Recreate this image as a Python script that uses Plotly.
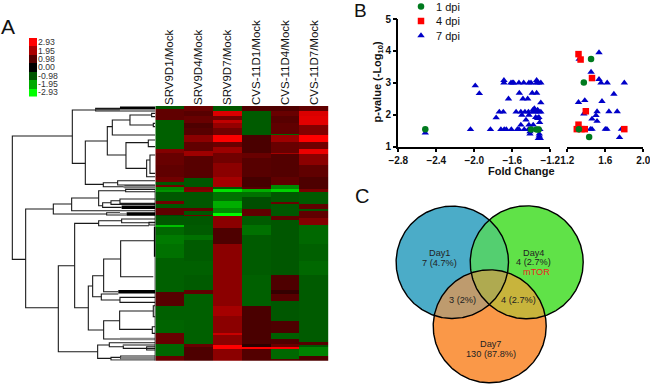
import numpy as np
import plotly.graph_objects as go

W, H = 650, 384
FONT = "Liberation Sans, Arial, sans-serif"

# ---------- Panel A data ----------
sample_labels = ["SRV9D1/Mock", "SRV9D4/Mock", "SRV9D7/Mock", "CVS-11D1/Mock", "CVS-11D4/Mock", "CVS-11D7/Mock"]
n_rows = 148
# per-sample runs of (last row of run, log ratio)
srv9d1 = [(2,-1.0),(8,1.1),(25,-1.1),(27,1.5),(34,1.2),(41,1.1),(44,1.3),(46,-1.0),(47,1.3),(49,-1.5),(50,-1.7),(55,-1.0),(57,1.3),(59,-1.0),(63,1.1),(64,-0.8),(69,-1.0),(70,-2.2),(75,-1.2),(80,-1.4),(88,-1.3),(98,-1.1),(108,-1.1),(116,1.0),(124,-1.1),(132,-1.15),(138,1.2),(145,-1.2),(148,1.2)]
srv9d4 = [(3,1.2),(6,1.0),(10,1.2),(13,0.9),(17,1.0),(21,1.6),(26,1.1),(29,1.8),(42,1.0),(47,-1.0),(49,1.4),(50,1.5),(59,-1.0),(61,1.1),(63,-1.0),(64,1.3),(69,-1.0),(75,-1.05),(78,-1.3),(90,-1.05),(98,-1.1),(107,-1.05),(109,1.1),(138,-1.1),(140,1.2),(148,0.9)]
srv9d7 = [(3,-1.0),(6,2.5),(8,1.3),(10,2.2),(13,1.7),(17,1.3),(21,2.9),(24,1.2),(27,1.8),(33,1.3),(41,1.6),(47,1.9),(48,-1.0),(50,-2.6),(55,-1.3),(59,-2.0),(62,-1.6),(64,-2.9),(71,1.6),(80,0.9),(98,1.6),(116,1.6),(122,1.9),(132,1.6),(133,2.3),(139,1.6),(141,3.0),(148,1.6)]
cvs11d1 = [(3,0.9),(17,-1.05),(27,0.85),(30,1.2),(41,1.0),(47,0.8),(48,1.0),(50,-2.0),(53,-1.3),(60,-0.9),(64,1.1),(69,-1.05),(75,-1.3),(98,-1.05),(116,-1.1),(138,0.85),(140,0.5),(141,3.0),(148,0.95)]
cvs11d4 = [(3,0.9),(6,1.2),(10,1.0),(16,1.1),(17,-1.2),(21,1.8),(27,1.2),(28,1.9),(41,0.95),(46,1.1),(48,-1.6),(50,-2.4),(56,-1.0),(57,1.2),(64,-1.0),(66,1.1),(98,-1.0),(107,0.9),(109,0.6),(113,1.0),(125,-1.0),(132,0.9),(135,-1.1),(138,0.9),(140,1.2),(141,3.0),(147,-1.2),(148,1.0)]
cvs11d7 = [(3,1.1),(6,2.5),(11,2.6),(17,1.5),(21,3.0),(25,1.3),(28,2.7),(34,1.6),(41,1.1),(47,0.9),(48,0.9),(50,1.4),(57,-1.05),(60,1.1),(61,-1.0),(65,1.1),(69,1.5),(80,-1.2),(90,-1.1),(98,-1.2),(137,-1.05),(139,1.0),(140,-1.0),(145,-1.5),(148,0.9)]
sample_runs = [srv9d1, srv9d4, srv9d7, cvs11d1, cvs11d4, cvs11d7]

scale_labels = ["2.93", "1.95", "0.98", "0.00", "-0.98", "-1.95", "-2.93"]
scale_values = [2.93, 1.95, 0.98, 0.0, -0.98, -1.95, -2.93]

# dendrogram merges: node height, top child row, bottom child row, top child height, bottom child height
merges = [
 [37,408,778,217,77],[217,330,490,287,256],[287,325,333,466,466],[256,423,553,322,310],
 [322,380,465,337,378],[337,360,405,390,466],[390,345,375,455,460],[455,340,350,466,466],
 [460,370,380,466,466],[378,428,505,445,440],[445,420,440,466,466],[440,480,530,450,466],
 [450,465,520,466,466],[310,548,560,353,375],[353,542,555,466,466],[375,557,563,466,466],
 [77,627,923,160,175],[160,612,642,215,320],[215,594,632,296,466],[296,572,617,377,308],
 [377,568,575,466,466],[308,608,622,333,365],[333,602,613,360,466],[360,597,610,466,466],
 [320,638,645,360,380],[175,797,1055,224,293],[224,670,923,296,265],[296,662,677,365,447],
 [365,657,668,466,466],[447,667,675,466,466],[265,858,990,278,311],[278,827,890,311,304],
 [311,777,875,362,355],[362,722,830,466,460],[304,882,900,355,360],[360,892,907,466,466],
 [311,962,1017,359,360],[359,933,988,460,457],[460,917,950,466,466],[457,980,1000,466,466],
 [293,1035,1075,328,333],[328,1028,1040,466,370],[370,1035,1045,440,466],[440,1040,1050,466,466],
 [333,1072,1080,362,466],[362,1068,1076,466,466],
]
# bundles of very short leaves: from height, to height, row, line width, colour
leaf_bundles = [
 [360,466,324,3,"#000"],[287,360,329,1.5,"#444"],[370,466,560,2,"#888"],[365,466,622,3.5,"#000"],
 [360,380,642,2,"#999"],[380,466,642,3.5,"#000"],[355,466,875,3.5,"#000"],[360,466,1017,2.5,"#888"],
 [370,466,1035,2,"#888"],[362,466,1075,2.5,"#888"],
]
leaf_edge = [(466,570,1082,1.2),(465,680,770,2.2)]

# ---------- Panel B data ----------
neg_7_x = [-2.516,-2.04,-1.99,-1.947,-1.83,-1.77,-1.737,-1.695,-1.72,-1.685,-1.663,-1.688,-1.688,-1.61,-1.64,-1.614,-1.586,-1.60,-1.53,-1.48,-1.425,-1.403,-1.56,-1.547,-1.53,-1.526,-1.51,-1.50,-1.51,-1.488,-1.438,-1.474,-1.467,-1.456,-1.43,-1.425,-1.425,-1.43,-1.414,-1.414,-1.39,-1.344,-1.382,-1.382,-1.368,-1.38,-1.36,-1.333,-1.32,-1.30,-1.344,-1.344,-1.326,-1.30,-1.354,-1.333,-1.32,-1.312,-1.30,-1.31,-1.316,-1.326,-1.305,-1.316]
neg_7_y = [1.43,1.54,2.91,2.67,1.54,1.91,2.09,2.09,1.54,1.54,1.54,3.0,3.08,1.54,2.5,3.0,3.0,3.0,3.0,3.0,3.0,3.0,2.09,1.54,1.54,2.68,2.09,1.99,1.68,2.5,2.5,1.54,2.09,1.84,2.09,1.99,1.68,1.54,1.40,1.47,2.68,2.68,2.15,2.09,2.2,1.68,2.09,2.15,2.09,2.09,3.0,3.08,3.0,3.0,1.92,1.89,1.92,1.76,2.38,1.54,1.40,1.26,1.26,1.34]
neg_1_x = [-2.516,-1.403,-1.344,-1.323]
neg_1_y = [1.55,1.54,1.54,1.54]
pos_7_x = [1.534,1.325,1.45,1.534,1.555,1.62,1.80,1.69,1.384,1.318,1.565,1.374,1.513,1.502,1.638,1.725,1.46,1.513,1.443,1.46,1.617,1.60,1.77,1.75]
pos_7_y = [3.95,3.74,3.34,3.11,3.0,3.0,3.0,2.65,2.45,2.39,2.42,2.03,2.10,1.98,2.10,2.10,1.87,1.80,1.55,1.55,1.55,1.55,1.55,1.29]
pos_4_x = [1.318,1.34,1.46,1.395,1.318,1.30,1.35,1.384,1.80]
pos_4_y = [3.90,3.73,3.15,2.11,1.69,1.55,1.55,1.55,1.55]
pos_1_x = [1.45,1.374,1.322,1.43]
pos_1_y = [3.75,3.01,1.55,1.30]
y_ticks = [1, 2, 3, 4, 5]
x_ticks_neg = [-2.8, -2.4, -2.0, -1.6, -1.2]
x_ticks_pos = [1.2, 1.6, 2.0]
key_names = ["1 dpi", "4 dpi", "7 dpi"]
key_symbols = ["circle", "square", "triangle-up"]
key_colors = ["#007A1E", "#FF0000", "#0000C8"]

# ---------- Panel C data ----------
venn_names = ["Day1", "Day4", "Day7"]
venn_cx = [452.3, 526.7, 489.7]
venn_cy = [262.3, 262.3, 326.3]
venn_r = [56.2, 56.5, 56.5]
venn_colors = ["#4BACC8", "#60E248", "#FA9848"]
overlap_colors = {(0, 1): "#54CF70", (0, 2): "#BE9B6E", (1, 2): "#C8B43C", (0, 1, 2): "#AFAA50"}
venn_text = [
 ("Day1", 439, 252.7, "#222"), ("7 (4.7%)", 439, 263, "#222"),
 ("Day4", 533, 252.7, "#222"), ("4 (2.7%)", 533, 262, "#222"), ("mTOR", 536.7, 272.3, "#EE2020"),
 ("3 (2%)", 462, 300, "#222"), ("4 (2.7%)", 518.7, 300, "#222"),
 ("Day7", 490, 344.3, "#222"), ("130 (87.8%)", 490.7, 354, "#222"),
]

# ---------- helpers ----------
def dom_x(a, b): return [a / W, b / W]
def dom_y(top, bottom): return [1 - bottom / H, 1 - top / H]

def expand(runs):
    out, start = [], 0
    for end, v in runs:
        out += [v] * (end - start)
        start = end
    return out[:n_rows]

fig = go.Figure()
CS = [[0, "#00FF00"], [0.5, "#000000"], [1, "#FF0000"]]

# heatmap
z = np.array([expand(r) for r in sample_runs]).T
fig.add_trace(go.Heatmap(z=z, x=sample_labels, y=list(range(n_rows)), colorscale=CS, zmin=-2.93, zmax=2.93,
                         showscale=False, xaxis="x", yaxis="y", hoverinfo="skip"))
# colour key
fig.add_trace(go.Heatmap(z=[[v] for v in scale_values], x=[0], y=scale_labels, colorscale=CS, zmin=-2.93, zmax=2.93,
                         showscale=False, xaxis="x2", yaxis="y2", hoverinfo="skip"))
# dendrogram
dx, dy = [], []
for xn, yt, yb, xa, xb in merges:
    dx += [xa, xn, xn, xb, None]
    dy += [yt, yt, yb, yb, None]
fig.add_trace(go.Scatter(x=dx, y=dy, mode="lines", line=dict(color="#1a1a1a", width=1.1), xaxis="x3", yaxis="y3",
                         showlegend=False, hoverinfo="skip"))
for x0, x1, y, w, c in leaf_bundles:
    fig.add_trace(go.Scatter(x=[x0, x1], y=[y, y], mode="lines", line=dict(color=c, width=w), xaxis="x3", yaxis="y3",
                             showlegend=False, hoverinfo="skip"))
for x, y0, y1, w in leaf_edge:
    fig.add_trace(go.Scatter(x=[x, x], y=[y0, y1], mode="lines", line=dict(color="#000", width=w), xaxis="x3", yaxis="y3",
                             showlegend=False, hoverinfo="skip"))

# scatter
BLUE, RED, GREEN = key_colors[2], key_colors[1], key_colors[0]
def pts(x, y, ax, ay, name, sym, col, size):
    fig.add_trace(go.Scatter(x=x, y=y, mode="markers", name=name, showlegend=False,
                             marker=dict(symbol=sym, color=col, size=size, line=dict(width=0)),
                             xaxis=ax, yaxis=ay, hoverinfo="skip", cliponaxis=False))
pts(neg_7_x, neg_7_y, "x4", "y4", "7 dpi", "triangle-up", BLUE, 6.5)
pts(pos_7_x, pos_7_y, "x5", "y5", "7 dpi", "triangle-up", BLUE, 6.5)
pts(pos_4_x, pos_4_y, "x5", "y5", "4 dpi", "square", RED, 6.5)
pts(neg_1_x, neg_1_y, "x4", "y4", "1 dpi", "circle", GREEN, 6.5)
pts(pos_1_x, pos_1_y, "x5", "y5", "1 dpi", "circle", GREEN, 6.5)

# key for panel B, on its own hidden axes
for k, (name, sym, col) in enumerate(zip(key_names, key_symbols, key_colors)):
    fig.add_trace(go.Scatter(x=[0], y=[k], mode="markers", name=name, showlegend=False, hoverinfo="skip",
                             marker=dict(symbol=sym, color=col, size=6.5, line=dict(width=0)),
                             xaxis="x7", yaxis="y7", cliponaxis=False))
    fig.add_annotation(x=15, y=k, xref="x7", yref="y7", text=name, showarrow=False, xanchor="left", xshift=-2,
                       font=dict(family=FONT, size=11, color="#111"))

# venn
theta = np.linspace(0, 2 * np.pi, 361)
def circle(i):
    return venn_cx[i] + venn_r[i] * np.cos(theta), venn_cy[i] + venn_r[i] * np.sin(theta)
def region(ids):
    px, py = [], []
    for i in ids:
        cxs, cys = circle(i)
        keep = np.ones_like(cxs, dtype=bool)
        for j in ids:
            if j != i:
                keep &= np.hypot(cxs - venn_cx[j], cys - venn_cy[j]) <= venn_r[j]
        px += list(cxs[keep]); py += list(cys[keep])
    px, py = np.array(px), np.array(py)
    order = np.argsort(np.arctan2(py - py.mean(), px - px.mean()))
    return np.r_[px[order], px[order][0]], np.r_[py[order], py[order][0]]
for i in range(3):
    cxs, cys = circle(i)
    fig.add_trace(go.Scatter(x=cxs, y=cys, mode="lines", fill="toself", fillcolor=venn_colors[i], line=dict(width=0),
                             name=venn_names[i], xaxis="x6", yaxis="y6", showlegend=False, hoverinfo="skip"))
for ids, col in overlap_colors.items():
    rx, ry = region(ids)
    fig.add_trace(go.Scatter(x=rx, y=ry, mode="lines", fill="toself", fillcolor=col, line=dict(width=0),
                             xaxis="x6", yaxis="y6", showlegend=False, hoverinfo="skip"))
for i in range(3):
    cxs, cys = circle(i)
    fig.add_trace(go.Scatter(x=cxs, y=cys, mode="lines", line=dict(color="#000", width=1.4),
                             xaxis="x6", yaxis="y6", showlegend=False, hoverinfo="skip"))
for t, x, y, c in venn_text:
    fig.add_annotation(x=x, y=y, xref="x6", yref="y6", text=t, showarrow=False, font=dict(family=FONT, size=9.2, color=c))

# annotations
def note(text, x, y, size, bold=False, angle=0, color="#111"):
    t = f"<b>{text}</b>" if bold else text
    fig.add_annotation(x=x / W, y=1 - y / H, xref="paper", yref="paper", xanchor="center", yanchor="middle",
                       text=t, showarrow=False, textangle=angle, font=dict(family=FONT, size=size, color=color))
note("A", 8, 26, 21)
note("B", 360, 10.5, 19)
note("C", 362, 196, 20)
note("Fold Change", 521, 171, 11, bold=True)
note("p-value (-Log<sub>10</sub>)", 377.5, 82, 11, bold=True, angle=-90)

off = dict(visible=False, showgrid=False, zeroline=False)
axis_b = dict(showline=True, linecolor="#000", linewidth=1.6, ticks="outside", ticklen=3.5, tickwidth=1.5, tickcolor="#000",
              showgrid=False, zeroline=False, ticklabeloverflow="allow",
              tickfont=dict(family=FONT, size=10, color="#111", weight="bold"))

fig.update_layout(
    template="none",
    width=W, height=H, autosize=False, margin=dict(l=0, r=0, t=0, b=0),
    paper_bgcolor="white", plot_bgcolor="rgba(0,0,0,0)", font=dict(family=FONT), showlegend=False,
    xaxis=dict(domain=dom_x(155.3, 328.7), side="top", tickangle=-90, ticks="", showgrid=False, zeroline=False, showline=False,
               tickfont=dict(family=FONT, size=11.5, color="#111"), automargin=False),
    yaxis=dict(domain=dom_y(106, 360.7), autorange="reversed", **off),
    xaxis2=dict(domain=dom_x(29, 37), **off),
    yaxis2=dict(domain=dom_y(38, 96.5), anchor="x2", side="right", type="category", autorange="reversed", showgrid=False, zeroline=False,
                showline=False, ticks="", tickmode="array", tickvals=scale_labels, ticktext=scale_labels,
                tickfont=dict(family=FONT, size=8.7, color="#333"), automargin=False),
    xaxis3=dict(domain=dom_x(0, 155.3), range=[0, 466], **off),
    yaxis3=dict(domain=dom_y(106, 360.7), range=[1082, 318], anchor="x3", **off),
    xaxis4=dict(domain=dom_x(398.3, 550.3), range=[-2.8, -1.2], tickvals=x_ticks_neg, tickformat=".1f", anchor="y4", **axis_b),
    yaxis4=dict(domain=dom_y(19, 146.7), range=[1, 5], tickvals=y_ticks, anchor="x4", **axis_b),
    xaxis5=dict(domain=dom_x(567.3, 643.3), range=[1.2, 2.0], tickvals=x_ticks_pos, tickformat=".1f", anchor="y5", **axis_b),
    yaxis5=dict(domain=dom_y(19, 146.7), range=[1, 5], anchor="x5", **off),
    xaxis6=dict(domain=dom_x(350, 650), range=[350, 650], anchor="y6", **off),
    yaxis6=dict(domain=dom_y(180, 384), range=[384, 180], anchor="x6", **off),
    xaxis7=dict(domain=dom_x(421, 471), range=[0, 50], anchor="y7", **off),
    yaxis7=dict(domain=dom_y(6.5, 35.5), range=[2, 0], anchor="x7", **off),
)

fig.write_html("out.html", config=dict(displayModeBar=False),
               post_script="document.body.style.margin='0';document.body.style.overflow='hidden';")
